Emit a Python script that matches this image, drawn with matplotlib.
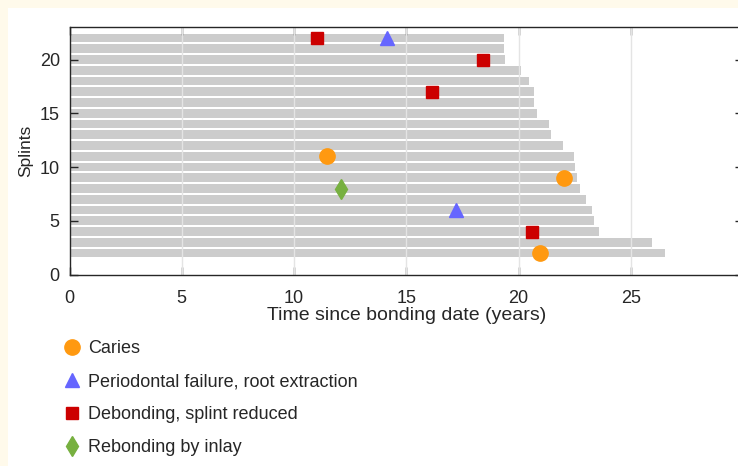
import numpy as np
import matplotlib
matplotlib.use("Agg")
import matplotlib.pyplot as plt
from matplotlib.patches import Rectangle

plt.rcParams['font.family'] = ['Liberation Sans', 'DejaVu Sans']

# splint number (y) and follow-up length in years
splints = [22, 21, 20, 19, 18, 17, 16, 15, 14, 13, 12,
           11, 10, 9, 8, 7, 6, 5, 4, 3, 2]
years = [19.34, 19.37, 19.41, 20.13, 20.47, 20.71, 20.71, 20.82, 21.36, 21.43, 21.98,
         22.47, 22.53, 22.62, 22.72, 23.02, 23.29, 23.35, 23.59, 25.93, 26.51]

# events: (time in years, splint)
caries_t = [11.46, 22.04, 20.94]
caries_s = [11, 9, 2]
perio_t = [14.13, 17.2]
perio_s = [22, 6]
debond_t = [11.04, 18.42, 16.16, 20.59]
debond_s = [22, 20, 17, 4]
inlay_t = [12.09]
inlay_s = [8]

W, H = 738, 466
fig = plt.figure(figsize=(W / 100, H / 100), dpi=100)
fig.patch.set_facecolor('#fffaeb')
fig.patches.append(Rectangle((8 / W, 0), 1, 1 - 8 / H, transform=fig.transFigure,
                             facecolor='white', edgecolor='none', zorder=-10))

ax = fig.add_axes([69.5 / W, 1 - 274.5 / H, (743 - 69.5) / W, (274.5 - 27.3) / H])
ax.set_facecolor('white')

ax.barh(splints, years, height=0.8, color='#cccccc', zorder=1)
for gx in [5, 10, 15, 20, 25]:
    ax.axvline(gx, color='#e4e4e4', lw=1.0, zorder=2)

ax.plot(caries_t, caries_s, 'o', color='#ff9910', ms=11, ls='none', zorder=3, label='Caries')
ax.plot(perio_t, perio_s, '^', color='#6666ff', ms=10, ls='none', zorder=3,
        label='Periodontal failure, root extraction')
ax.plot(debond_t, debond_s, 's', color='#cc0000', ms=8.5, ls='none', zorder=3,
        label='Debonding, splint reduced')
ax.plot(inlay_t, inlay_s, 'd', color='#77b040', ms=10, ls='none', zorder=3,
        label='Rebonding by inlay')

ax.set_xlim(0, 30)
ax.set_ylim(0, 23)
ax.set_xticks([0, 5, 10, 15, 20, 25, 30])
ax.set_xticklabels(['0', '5', '10', '15', '20', '25', ''])
ax.set_yticks([0, 5, 10, 15, 20])
ax.tick_params(direction='in', length=6, width=1, colors='#262626', labelsize=13,
               top=True, right=True)
ax.tick_params(axis='x', pad=11)
ax.tick_params(axis='y', pad=7)
for s in ax.spines.values():
    s.set_color('#262626')
    s.set_linewidth(1)

ax.set_xlabel('Time since bonding date (years)', fontsize=14, color='#262626', labelpad=0)
ax.set_ylabel('Splints', fontsize=12.5, color='#262626', labelpad=5)

h, l = ax.get_legend_handles_labels()
fig.legend(h, l, loc='upper left', bbox_to_anchor=(56 / W, 1 - 333 / H),
           frameon=False, fontsize=13, labelspacing=0.88, handletextpad=0.4,
           handlelength=1.0, borderaxespad=0, labelcolor='#262626')

fig.savefig('out.png', dpi=100, facecolor=fig.get_facecolor())
